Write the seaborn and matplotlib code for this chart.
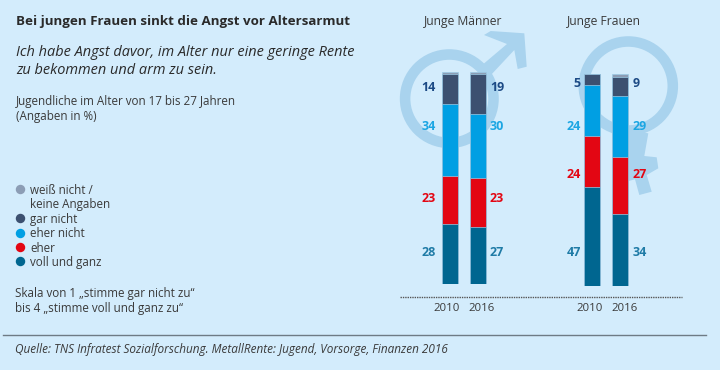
import matplotlib
matplotlib.use("Agg")
import matplotlib.pyplot as plt
from matplotlib.patches import Circle, Polygon
import numpy as np
import seaborn as sns
import pandas as pd

years = ["2010", "2016"]
levels = ["voll und ganz", "eher", "eher nicht", "gar nicht", "weiß nicht"]
maenner = {"voll und ganz": [28, 27], "eher": [23, 23], "eher nicht": [34, 30], "gar nicht": [14, 19], "weiß nicht": [1, 1]}
frauen = {"voll und ganz": [47, 34], "eher": [24, 27], "eher nicht": [24, 29], "gar nicht": [5, 9], "weiß nicht": [0, 1]}
legend_labels = ["weiß nicht /\nkeine Angaben", "gar nicht", "eher nicht", "eher", "voll und ganz"]
colors = {"voll und ganz": "#006690", "eher": "#E30613", "eher nicht": "#009FE3", "gar nicht": "#3C5070", "weiß nicht": "#8C9DB5"}
label_colors = {"voll und ganz": "#1F7BA6", "eher": "#E30613", "eher nicht": "#1CA6E3", "gar nicht": "#1C4A85"}

BG = "#D3ECFC"
SYM = "#A9D3EE"
TXT = "#3A3A3A"
W, H = 720, 370
plt.rcParams["font.family"] = ["Open Sans", "DejaVu Sans"]

fig = plt.figure(figsize=(W / 100, H / 100), dpi=100, facecolor=BG)

# page overlay in pixel coordinates
bg = fig.add_axes([0, 0, 1, 1], zorder=0)
bg.set_xlim(0, W); bg.set_ylim(H, 0); bg.axis("off")
top = fig.add_axes([0, 0, 1, 1], zorder=3)
top.set_xlim(0, W); top.set_ylim(H, 0); top.axis("off"); top.patch.set_alpha(0)

# gender symbols
bg.add_patch(Circle((449.3, 98.7), 44.2, fc="none", ec=SYM, lw=7.6))
bg.add_patch(Polygon([(484, 35), (490.7, 31), (524.3, 33.3), (526.7, 66.7), (517.7, 69), (514.3, 50),
                      (490, 76), (481, 66), (507, 44)], fc=SYM, ec="none"))
bg.add_patch(Circle((628.3, 86), 44.5, fc="none", ec=SYM, lw=7.6))
bg.add_patch(Polygon([(625, 130), (648.3, 133.3), (644.3, 156), (656.7, 157.3), (658.3, 168.3), (646.7, 175),
                      (651.7, 191.7), (639.3, 195), (635, 179.3), (625, 182)], fc=SYM, ec="none"))


def draw(data, left, right, bottom_px, top_value, xl, xr, rows):
    ax = fig.add_axes([left / W, 1 - bottom_px / H, (right - left) / W, top_value * SCALE / H], zorder=2)
    cum = np.zeros(2)
    stacks = []
    for lev in levels:
        cum = cum + np.array(data[lev])
        stacks.append((lev, cum.copy()))
    for lev, c in reversed(stacks):
        df = pd.DataFrame({"Jahr": years, "Wert": c})
        sns.barplot(data=df, x="Jahr", y="Wert", color=colors[lev], saturation=1, width=0.577, ax=ax,
                    edgecolor="#9CCBE6", linewidth=0.5, errorbar=None)
    ax.set_ylim(0, top_value)
    ax.set_xlim(-0.5, 1.5)
    ax.axis("off")
    ax.patch.set_alpha(0)
    for lev in levels[:-1]:
        vals = data[lev]
        top.text(xl, rows[lev], str(vals[0]), color=label_colors[lev], fontsize=9, fontweight="bold",
                 ha="right", va="center_baseline")
        top.text(xr, rows[lev], str(vals[1]), color=label_colors[lev], fontsize=9, fontweight="bold",
                 ha="left", va="center_baseline")


SCALE = 2.115
draw(maenner, 435.55, 492.35, 283.7, 110, 436, 490,
     {"gar nicht": 85.7, "eher nicht": 124.5, "eher": 197, "voll und ganz": 250.8})
draw(frauen, 577.65, 634.45, 286.0, 110, 580.7, 632.7,
     {"gar nicht": 82, "eher nicht": 124.5, "eher": 172.5, "voll und ganz": 250.8})

# baseline and x labels
bg.plot([400, 682], [297, 297], color="#555555", lw=1, ls=(0, (1, 0.7)))
for x, t in [(446.5, "2010"), (481.5, "2016"), (590, "2010"), (625, "2016")]:
    bg.text(x, 308.2, t, fontsize=8.2, color=TXT, ha="center", va="center")
bg.text(463.5, 22, "Junge Männer", fontsize=8.7, color=TXT, ha="center", va="center")
bg.text(603.5, 22, "Junge Frauen", fontsize=8.7, color=TXT, ha="center", va="center")

# left column
bg.text(16, 21, "Bei jungen Frauen sinkt die Angst vor Altersarmut", fontsize=9.65, fontweight="bold", color="#2A2A2A", va="center")
bg.text(16, 52, "Ich habe Angst davor, im Alter nur eine geringe Rente", fontsize=10.47, style="italic", color="#2A2A2A", va="center")
bg.text(16, 70, "zu bekommen und arm zu sein.", fontsize=10.47, style="italic", color="#2A2A2A", va="center")
bg.text(16, 101, "Jugendliche im Alter von 17 bis 27 Jahren", fontsize=8.35, color=TXT, va="center")
bg.text(16, 116.5, "(Angaben in %)", fontsize=8.35, color=TXT, va="center")

# legend
ly = [189, 218, 232.5, 247, 261.3]
for lev, y, lab in zip(reversed(levels), ly, legend_labels):
    bg.plot([19.5], [y], "o", ms=6.8, color=colors[lev], mec="none")
    if "\n" in lab:
        a, b = lab.split("\n")
        bg.text(30, y + 1, a, fontsize=8.35, color=TXT, va="center")
        bg.text(30.5, y + 15.5, b, fontsize=8.35, color=TXT, va="center")
    else:
        bg.text(30, y + 1, lab, fontsize=8.35, color=TXT, va="center")

bg.text(15, 294, "Skala von 1 „stimme gar nicht zu“", fontsize=8.35, color=TXT, va="center")
bg.text(15, 308.5, "bis 4 „stimme voll und ganz zu“", fontsize=8.35, color=TXT, va="center")

bg.plot([3, 706], [334.5, 334.5], color="#6E7B85", lw=1)
bg.text(15, 350, "Quelle: TNS Infratest Sozialforschung. MetallRente: Jugend, Vorsorge, Finanzen 2016", fontsize=8.5, style="italic", color=TXT, va="center")

fig.savefig("out.png", dpi=100, facecolor=BG)
